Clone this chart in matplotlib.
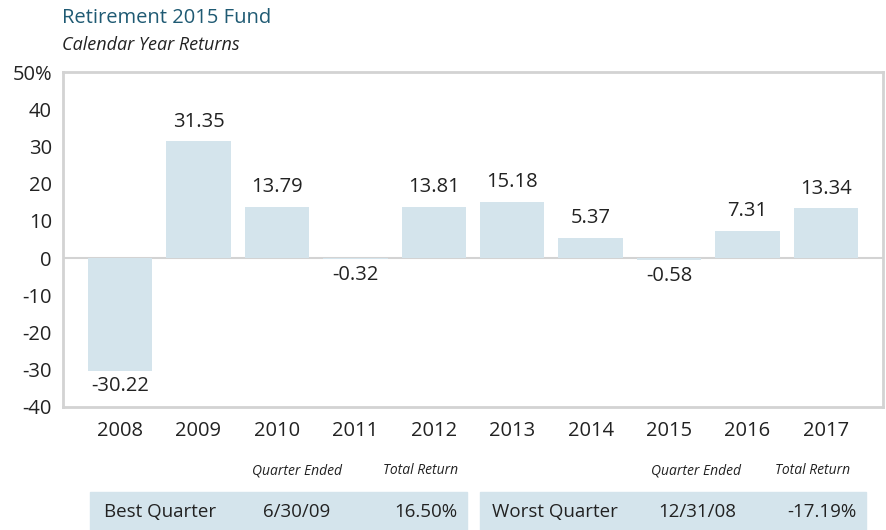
import matplotlib
matplotlib.use("Agg")
import matplotlib.pyplot as plt
from matplotlib.patches import Rectangle

years = ["2008", "2009", "2010", "2011", "2012", "2013", "2014", "2015", "2016", "2017"]
returns = [-30.22, 31.35, 13.79, -0.32, 13.81, 15.18, 5.37, -0.58, 7.31, 13.34]
yticks = [50, 40, 30, 20, 10, 0, -10, -20, -30, -40]
ytick_labels = ["50%", "40", "30", "20", "10", "0", "-10", "-20", "-30", "-40"]

best = ["Best Quarter", "6/30/09", "16.50%"]
worst = ["Worst Quarter", "12/31/08", "-17.19%"]

plt.rcParams['font.family'] = ['Open Sans', 'DejaVu Sans']

W, H = 886, 530
bar_col = "#d4e4ec"
frame_col = "#d3d3d3"
txt = "#222222"

fig = plt.figure(figsize=(W / 100, H / 100), dpi=100)

def fx(px):
    return px / W

def fy(py):
    return 1 - py / H

ax = fig.add_axes([fx(63), fy(407), fx(820), 335 / H])
x = list(range(len(years)))
ax.bar(x, returns, width=0.82, color=bar_col, zorder=2)
ax.axhline(0, color=frame_col, lw=1.5, zorder=1)
ax.set_xlim(-0.727, 9.727)
ax.set_ylim(-40, 50)
ax.set_yticks(yticks)
ax.set_yticklabels(ytick_labels)
ax.set_xticks(x)
ax.set_xticklabels(years)
ax.tick_params(length=0, labelsize=14.5, colors=txt, pad=8)
ax.tick_params(axis='x', pad=10)
for s in ax.spines.values():
    s.set_color(frame_col)
    s.set_linewidth(2)

for xi, v in zip(x, returns):
    if v >= 0:
        ax.annotate(f"{v:.2f}", (xi, v), xytext=(0, 7), textcoords="offset points",
                    ha="center", va="bottom", fontsize=14.5, color=txt)
    else:
        ax.annotate(f"{v:.2f}", (xi, v), xytext=(0, -4), textcoords="offset points",
                    ha="center", va="top", fontsize=14.5, color=txt)

fig.text(fx(62), fy(18), "Retirement 2015 Fund", fontsize=14.5, color="#1f5a73",
         va="center", ha="left")
fig.text(fx(62), fy(45), "Calendar Year Returns", fontsize=13, style="italic",
         color=txt, va="center", ha="left")

# quarter table
fig.patches.append(Rectangle((fx(90), 0), fx(377), 38 / H, transform=fig.transFigure,
                             color=bar_col, zorder=0))
fig.patches.append(Rectangle((fx(480), 0), fx(386), 38 / H, transform=fig.transFigure,
                             color=bar_col, zorder=0))

for cx in (297, 696):
    fig.text(fx(cx), fy(471), "Quarter Ended", style="italic",
             fontsize=10, ha="center", va="center", color=txt)
for cx in (421, 813):
    fig.text(fx(cx), fy(471), "Total Return", style="italic",
             fontsize=10, ha="center", va="center", color=txt)

fig.text(fx(104), fy(512), best[0], fontsize=13.5, ha="left", va="center", color=txt)
fig.text(fx(297), fy(512), best[1], fontsize=13.5, ha="center", va="center", color=txt)
fig.text(fx(457), fy(512), best[2], fontsize=13.5, ha="right", va="center", color=txt)
fig.text(fx(492), fy(512), worst[0], fontsize=13.5, ha="left", va="center", color=txt)
fig.text(fx(697), fy(512), worst[1], fontsize=13.5, ha="center", va="center", color=txt)
fig.text(fx(856), fy(512), worst[2], fontsize=13.5, ha="right", va="center", color=txt)

fig.savefig("out.png", dpi=100)
